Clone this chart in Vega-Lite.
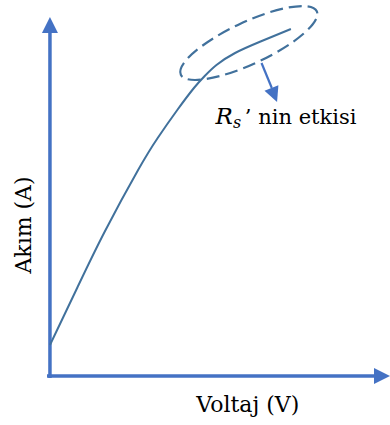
{
  "$schema": "https://vega.github.io/schema/vega-lite/v6.json",
  "width": 390,
  "height": 425,
  "padding": 0,
  "autosize": {"type": "fit", "contains": "padding"},
  "config": {"view": {"stroke": null}},
  "datasets": {
    "curve": [
      {"v": 0, "i": 31}, {"v": 28, "i": 88.5}, {"v": 56, "i": 144.5}, {"v": 90, "i": 206},
      {"v": 110, "i": 238}, {"v": 130, "i": 266}, {"v": 147, "i": 288}, {"v": 158, "i": 300},
      {"v": 170, "i": 311}, {"v": 189, "i": 323}, {"v": 215, "i": 334.5}, {"v": 246, "i": 347}
    ],
    "axes": [
      {"v": -3, "i": 0, "v2": 332, "i2": 0},
      {"v": 0, "i": -2, "v2": 0, "i2": 344}
    ],
    "ellipse": [{"v": 203, "i": 333}],
    "pointer": [{"v": 216, "i": 313, "v2": 226.5, "i2": 288}],
    "pointerHead": [{"v": 229, "i": 281}],
    "yHead": [{"v": 0, "i": 351}],
    "xHead": [{"v": 339, "i": 0}],
    "ylab": [{"v": -26, "i": 151, "t": "Akım (A)"}],
    "xlab": [{"v": 202, "i": -36, "t": "Voltaj (V)"}],
    "rsym": [{"v": 169, "i": 252, "t": "R"}],
    "rsub": [{"v": 187, "i": 248, "t": "s"}],
    "rtext": [{"v": 199, "i": 252, "t": "’ nin etkisi"}]
  },
  "encoding": {
    "x": {"field": "v", "type": "quantitative", "scale": {"domain": [-51, 339], "nice": false, "zero": false}, "axis": null},
    "y": {"field": "i", "type": "quantitative", "scale": {"domain": [-49, 376], "nice": false, "zero": false}, "axis": null}
  },
  "layer": [
    {
      "data": {"name": "axes"},
      "mark": {"type": "rule", "color": "#4472C4", "strokeWidth": 3.5},
      "encoding": {"x2": {"field": "v2"}, "y2": {"field": "i2"}}
    },
    {
      "data": {"name": "yHead"},
      "mark": {"type": "point", "shape": "M -1 1 L 1 1 L 0 -1 Z", "filled": true, "color": "#4472C4", "opacity": 1, "size": 256}
    },
    {
      "data": {"name": "xHead"},
      "mark": {"type": "point", "shape": "M -1 -1 L 1 0 L -1 1 Z", "filled": true, "color": "#4472C4", "opacity": 1, "size": 256}
    },
    {
      "data": {"name": "curve"},
      "mark": {"type": "line", "color": "#41719C", "strokeWidth": 2, "interpolate": "natural"},
      "encoding": {"order": {"field": "v", "type": "quantitative"}}
    },
    {
      "data": {"name": "ellipse"},
      "mark": {"type": "point", "shape": "M -1 0 A 1 0.28 0 1 1 1 0 A 1 0.28 0 1 1 -1 0 Z", "filled": false, "color": "#41719C", "opacity": 1, "strokeWidth": 2.2, "strokeDash": [13, 6], "size": 22500, "angle": 335}
    },
    {
      "data": {"name": "pointer"},
      "mark": {"type": "rule", "color": "#4472C4", "strokeWidth": 2.2},
      "encoding": {"x2": {"field": "v2"}, "y2": {"field": "i2"}}
    },
    {
      "data": {"name": "pointerHead"},
      "mark": {"type": "point", "shape": "M -1 -1 L 1 -1 L 0 1 Z", "filled": true, "color": "#4472C4", "opacity": 1, "size": 225, "angle": 338}
    },
    {
      "data": {"name": "ylab"},
      "mark": {"type": "text", "font": "DejaVu Serif", "fontSize": 22, "angle": 270, "baseline": "middle", "align": "center", "color": "#000000"},
      "encoding": {"text": {"field": "t"}}
    },
    {
      "data": {"name": "xlab"},
      "mark": {"type": "text", "font": "DejaVu Serif", "fontSize": 22, "baseline": "alphabetic", "align": "center", "color": "#000000"},
      "encoding": {"text": {"field": "t"}}
    },
    {
      "data": {"name": "rsym"},
      "mark": {"type": "text", "font": "DejaVu Serif", "fontStyle": "italic", "fontSize": 23, "baseline": "alphabetic", "align": "left", "color": "#000000"},
      "encoding": {"text": {"field": "t"}}
    },
    {
      "data": {"name": "rsub"},
      "mark": {"type": "text", "font": "DejaVu Serif", "fontStyle": "italic", "fontSize": 16, "baseline": "alphabetic", "align": "left", "color": "#000000"},
      "encoding": {"text": {"field": "t"}}
    },
    {
      "data": {"name": "rtext"},
      "mark": {"type": "text", "font": "DejaVu Serif", "fontSize": 21, "baseline": "alphabetic", "align": "left", "color": "#000000"},
      "encoding": {"text": {"field": "t"}}
    }
  ]
}
